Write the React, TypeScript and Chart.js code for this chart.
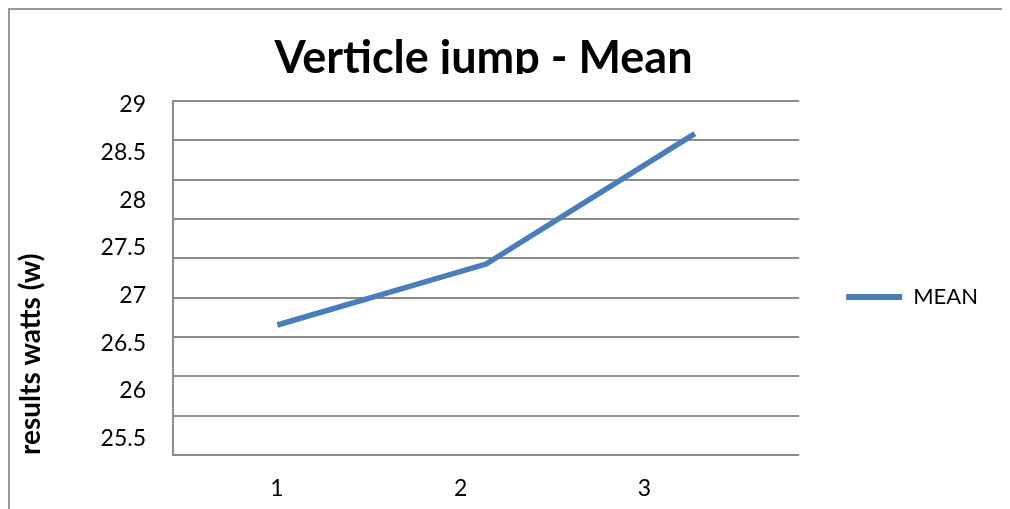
import React, { useEffect, useRef } from 'react';
import { Chart, registerables } from 'chart.js';

Chart.register(...registerables);

const categories = ['1', '2', '3'];
const meanValues = [26.69, 27.33, 28.7];
const seriesLabel = 'MEAN';
const yTickValues = [29, 28.5, 28, 27.5, 27, 26.5, 26, 25.5];
const xTickValues = [1, 2, 3];
const gridSteps = 9;
const chartTitle = 'Verticle jump - Mean';
const yAxisTitle = 'results watts (w)';

const FONT = 'Lato, "Open Sans", sans-serif';
const GRID = '#8c8c8c';
const LINE = '#4a7ebb';

const clippedTitle = {
  id: 'clippedTitle',
  afterDraw(chart: any) {
    const ctx = chart.ctx;
    ctx.save();
    ctx.beginPath();
    ctx.rect(0, 0, chart.width, 64);
    ctx.clip();
    ctx.font = `bold 45px ${FONT}`;
    ctx.fillStyle = '#000';
    ctx.textAlign = 'center';
    ctx.textBaseline = 'alphabetic';
    ctx.fillText(chartTitle, 473.5, 62.7);
    ctx.restore();
  },
};

const legendShift = {
  id: 'legendShift',
  afterLayout(chart: any) {
    if (chart.legend) chart.legend.bottom -= 16;
  },
};

export default function App() {
  const ref = useRef<HTMLCanvasElement | null>(null);
  useEffect(() => {
    document.documentElement.style.overflow = 'hidden';
    document.body.style.overflow = 'hidden';
    const canvas = ref.current;
    if (!canvas) return;
    const chart = new Chart(canvas, {
      type: 'line',
      data: {
        labels: categories,
        datasets: [
          {
            label: seriesLabel,
            data: meanValues,
            borderColor: LINE,
            backgroundColor: LINE,
            borderWidth: 5.5,
            pointRadius: 0,
            pointHoverRadius: 0,
            tension: 0,
            fill: false,
            xAxisID: 'x',
            yAxisID: 'y',
          },
        ],
      },
      options: {
        responsive: false,
        animation: false,
        events: [],
        layout: { padding: { top: 91, right: 22, bottom: 0, left: 0 } },
        plugins: {
          title: { display: false },
          tooltip: { enabled: false },
          legend: {
            display: true,
            position: 'right',
            maxWidth: 400,
            labels: {
              boxWidth: 56,
              boxHeight: 6,
              padding: 47,
              color: '#000',
              font: { family: FONT, size: 22 },
              generateLabels: (c: any) =>
                Chart.defaults.plugins.legend.labels
                  .generateLabels(c)
                  .map((i: any) => ({ ...i, lineWidth: 0 })),
            },
          },
        },
        scales: {
          x: {
            type: 'category',
            display: false,
            offset: true,
          },
          xl: {
            type: 'linear',
            position: 'bottom',
            min: 0.4348,
            max: 3.8424,
            grid: { display: false, drawTicks: false },
            border: { display: false },
            afterBuildTicks: (s: any) => {
              s.ticks = xTickValues.map((v) => ({ value: v }));
            },
            afterFit: (s: any) => {
              s.height = 54;
            },
            ticks: {
              padding: 20,
              color: '#000',
              font: { family: FONT, size: 23 },
              maxRotation: 0,
              callback: (v: any) => categories[xTickValues.indexOf(Number(v))] ?? '',
            },
          },
          y: {
            type: 'linear',
            position: 'left',
            min: 25.325,
            max: 29.042,
            grid: { display: false, drawTicks: false },
            border: { display: true, color: GRID, width: 2 },
            afterBuildTicks: (s: any) => {
              s.ticks = yTickValues.map((v) => ({ value: v }));
            },
            afterFit: (s: any) => {
              s.width = 163;
            },
            ticks: {
              padding: 27,
              color: '#000',
              font: { family: FONT, size: 23 },
              callback: (v: any) => String(v),
            },
            title: {
              display: true,
              text: yAxisTitle,
              align: 'start',
              color: '#000',
              font: { family: FONT, size: 28, weight: 'bold' },
              padding: { top: 4, bottom: 0 },
            },
          },
          y2: {
            type: 'linear',
            position: 'left',
            min: 0,
            max: gridSteps,
            ticks: { display: false, stepSize: 1 },
            grid: { display: true, color: GRID, lineWidth: 2, drawTicks: false },
            border: { display: false },
            afterFit: (s: any) => {
              s.width = 0;
            },
          },
        },
      },
      plugins: [clippedTitle, legendShift],
    });
    return () => chart.destroy();
  }, []);

  return (
    <div
      style={{
        borderTop: '2px solid #999',
        borderLeft: '2px solid #999',
        width: 1000,
        height: 499,
        background: '#fff',
      }}
    >
      <canvas ref={ref} width={1000} height={499} style={{ display: 'block' }} />
    </div>
  );
}
